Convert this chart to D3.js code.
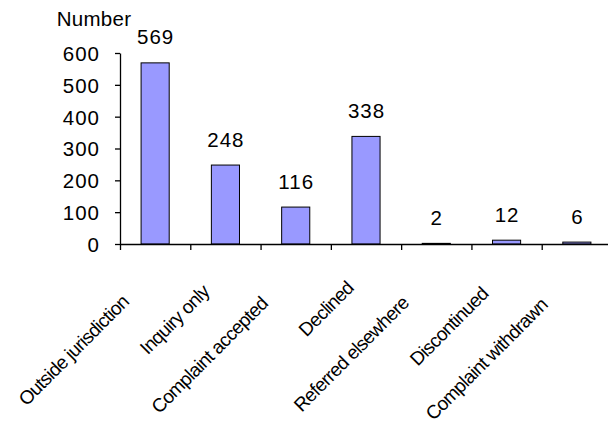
<!DOCTYPE html>
<html>
<head>
<meta charset="utf-8">
<script src="https://cdn.jsdelivr.net/npm/d3@7"></script>
<style>
  html, body { margin: 0; padding: 0; background: #fff; }
  svg { display: block; font-family: "Liberation Sans", Arial, sans-serif; }
</style>
</head>
<body>
<svg id="chart" width="608" height="424"></svg>
<script>
const categories = ["Outside jurisdiction", "Inquiry only", "Complaint accepted", "Declined", "Referred elsewhere", "Discontinued", "Complaint withdrawn"];
const values = [569, 248, 116, 338, 2, 12, 6];
const yTicks = [0, 100, 200, 300, 400, 500, 600];
const yTitle = "Number";

(function () {
const svg = d3.select("#chart");
const mLeft = 120, mRight = 612, mTop = 53, mBottom = 244;
const numSize = 20.5, labelSize = 19;

const x = d3.scaleBand().domain(categories).range([mLeft, mRight]).paddingInner(0.6).paddingOuter(0.3);
const xIdx = d3.scaleLinear().domain([0, categories.length]).range([mLeft, mRight]);
const y = d3.scaleLinear().domain([0, 600]).range([mBottom, mTop]);

// bars
svg.append("g").selectAll("rect").data(values).join("rect")
  .attr("x", (d, i) => x(categories[i]))
  .attr("y", d => y(d))
  .attr("width", x.bandwidth())
  .attr("height", d => y(0) - y(d))
  .attr("fill", "#9999ff")
  .attr("stroke", "#000")
  .attr("stroke-width", 1);

// y axis
const yAxis = svg.append("g").attr("transform", `translate(${mLeft},0)`)
  .call(d3.axisLeft(y).tickValues(yTicks).tickSize(5).tickSizeOuter(0).tickPadding(15));
yAxis.selectAll("text")
  .attr("font-size", numSize).attr("fill", "#000")
  .attr("font-family", "Liberation Sans, Arial, sans-serif")
  .attr("letter-spacing", 1)
  .attr("dy", "0.36em");
yAxis.selectAll("line, path").attr("stroke", "#000").attr("stroke-width", 1.3);

// x axis (ticks at category boundaries)
const xAxis = svg.append("g").attr("transform", `translate(0,${mBottom})`)
  .call(d3.axisBottom(xIdx).tickValues(d3.range(categories.length + 1)).tickFormat("").tickSize(6).tickSizeOuter(0));
xAxis.selectAll("line, path").attr("stroke", "#000").attr("stroke-width", 1.3);

// value labels
svg.append("g").selectAll("text").data(values).join("text")
  .attr("x", (d, i) => x(categories[i]) + x.bandwidth() / 2 + 0.5)
  .attr("y", d => y(d) - 18.5)
  .attr("text-anchor", "middle")
  .attr("font-size", numSize)
  .attr("letter-spacing", 1)
  .attr("fill", "#000")
  .text(d => d);

// category labels, rotated -45
svg.append("g").selectAll("text").data(categories).join("text")
  .attr("text-anchor", "end")
  .attr("font-size", labelSize)
  .attr("letter-spacing", -0.7)
  .attr("fill", "#000")
  .text(d => d)
  .each(function (d) {
    const w = this.getComputedTextLength();
    const cx = x(d) + x.bandwidth() / 2;
    const xoff = -11.5 - 0.178 * (w - 70);
    const px = cx + xoff;
    const py = mBottom + 34 - xoff;
    d3.select(this).attr("transform", `translate(${px},${py}) rotate(-45)`);
  });

// y title
svg.append("text")
  .attr("x", 94).attr("y", 26)
  .attr("text-anchor", "middle")
  .attr("font-size", numSize)
  .attr("letter-spacing", 0.3)
  .attr("fill", "#000")
  .text(yTitle);
})();
</script>
</body>
</html>
